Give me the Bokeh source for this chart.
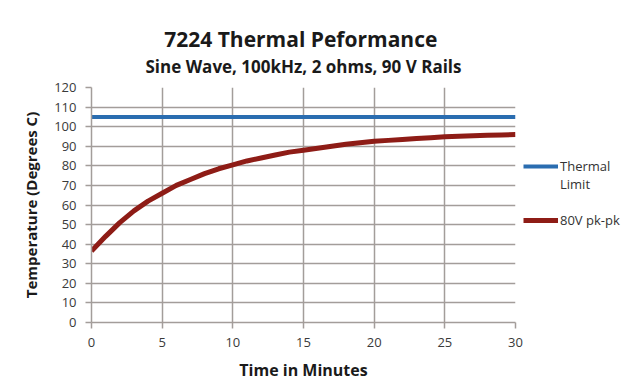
from bokeh.plotting import figure
from bokeh.layouts import row
from bokeh.models import Range1d, Title, Legend, LegendItem, FixedTicker
from bokeh.embed import file_html
from bokeh.resources import INLINE

# ---- data ----
minutes = [0, 1, 2, 3, 4, 5, 6, 7, 8, 9, 10, 11, 12, 13, 14, 15, 16, 17, 18, 19,
           20, 21, 22, 23, 24, 25, 26, 27, 28, 29, 30]
temp_80v = [36.5, 44.0, 51.0, 57.0, 62.0, 66.0, 70.0, 73.0, 76.0, 78.5, 80.5,
            82.5, 84.0, 85.5, 87.0, 88.0, 89.0, 90.0, 91.0, 91.8, 92.5, 93.0,
            93.5, 94.0, 94.4, 94.8, 95.1, 95.4, 95.6, 95.8, 96.0]
limit_minutes = [0, 30]
limit_temp = [105, 105]
x_ticks = [0, 5, 10, 15, 20, 25, 30]
y_ticks = [0, 10, 20, 30, 40, 50, 60, 70, 80, 90, 100, 110, 120]
legend_labels = ["Thermal", "Limit", "", "80V pk-pk"]

FONT = "Open Sans"
GRID = "#a39d9a"
BLUE = "#2a6db0"
RED = "#8e1c16"
H = 384

p = figure(width=523, height=H, output_backend="svg", toolbar_location=None,
           x_range=Range1d(0, 30), y_range=Range1d(0, 120),
           min_border_left=91, min_border_right=8, min_border_top=87,
           min_border_bottom=62, title=None)
p.background_fill_color = "white"
p.border_fill_color = "white"
p.outline_line_color = None

# titles (added nearest-to-frame first); the first is a small spacer
spacer = Title(text=" ", text_font=FONT, text_font_size="6px", standoff=0)
sub = Title(text="Sine Wave, 100kHz, 2 ohms, 90 V Rails", align="center",
            text_font=FONT, text_font_size="17px", text_font_style="bold",
            text_color="#1a1a1a", standoff=0)
main = Title(text="7224  Thermal Peformance", align="center",
             text_font=FONT, text_font_size="21px", text_font_style="bold",
             text_color="#1a1a1a", standoff=0)
p.add_layout(spacer, "above")
p.add_layout(sub, "above")
p.add_layout(main, "above")

# axes
p.xaxis.ticker = FixedTicker(ticks=x_ticks)
p.yaxis.ticker = FixedTicker(ticks=y_ticks)
p.xgrid.ticker = FixedTicker(ticks=x_ticks)
p.ygrid.ticker = FixedTicker(ticks=y_ticks)
for ax in (p.xaxis, p.yaxis):
    ax.axis_line_color = GRID
    ax.axis_line_width = 1.5
    ax.major_tick_line_color = GRID
    ax.major_tick_line_width = 1.5
    ax.major_tick_out = 6
    ax.major_tick_in = 0
    ax.minor_tick_line_color = None
    ax.major_label_text_font = FONT
    ax.major_label_text_font_size = "13px"
    ax.major_label_text_color = "#3a3a3a"
    ax.axis_label_text_font = FONT
    ax.axis_label_text_font_style = "bold"
    ax.axis_label_text_color = "#1a1a1a"
p.xaxis.axis_label = "Time in Minutes"
p.yaxis.axis_label = "Temperature (Degrees C)"
p.xaxis.axis_label_text_font_size = "16px"
p.yaxis.axis_label_text_font_size = "15px"
p.xaxis.major_label_standoff = 9
p.yaxis.major_label_standoff = 9
p.xaxis.axis_label_standoff = 9
p.yaxis.axis_label_standoff = 10

for g in (p.xgrid, p.ygrid):
    g.grid_line_color = GRID
    g.grid_line_width = 1.5

p.line(limit_minutes, limit_temp, line_color=BLUE, line_width=4)
p.line(minutes, temp_80v, line_color=RED, line_width=5)

# ---- legend panel to the right of the plot ----
pl = figure(width=107, height=H, output_backend="svg", toolbar_location=None,
            x_range=Range1d(0, 1), y_range=Range1d(0, 1),
            min_border_left=0, min_border_right=0, min_border_top=0,
            min_border_bottom=0, title=None, x_axis_type=None, y_axis_type=None)
pl.grid.visible = False
pl.outline_line_color = None
pl.background_fill_color = "white"
pl.border_fill_color = "white"

# placeholder renderers (kept outside the visible range) that only feed the legend
l_limit = pl.line([2, 3], [2, 2], line_color=BLUE, line_width=4)
l_blank1 = pl.line([2, 3], [2, 2], line_alpha=0)
l_blank2 = pl.line([2, 3], [2, 2], line_alpha=0)
l_80v = pl.line([2, 3], [2, 2], line_color=RED, line_width=5)

legend = Legend(items=[LegendItem(label=legend_labels[0], renderers=[l_limit]),
                       LegendItem(label=legend_labels[1], renderers=[l_blank1]),
                       LegendItem(label=legend_labels[2], renderers=[l_blank2]),
                       LegendItem(label=legend_labels[3], renderers=[l_80v])],
                location=(0, 93), orientation="vertical",
                glyph_width=35, glyph_height=18, label_standoff=2,
                label_height=18,
                label_text_font=FONT, label_text_font_size="13px",
                label_text_color="#333333", spacing=0, padding=0, margin=0,
                border_line_color=None, background_fill_alpha=0)
pl.add_layout(legend, "center")

layout = row(p, pl, spacing=0)
open("out.html", "w").write(file_html(layout, INLINE))
